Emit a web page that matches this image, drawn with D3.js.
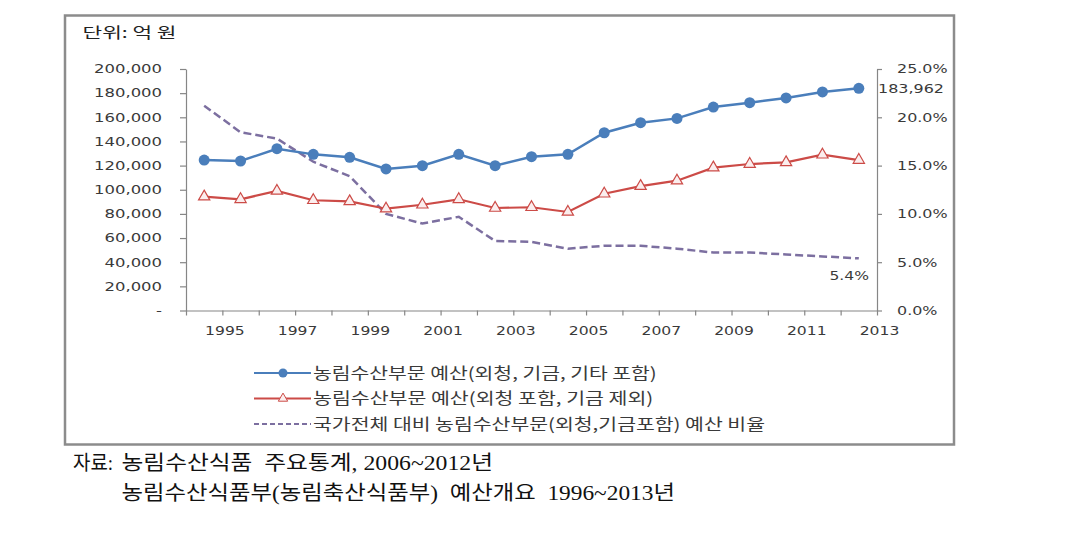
<!DOCTYPE html>
<html><head><meta charset="utf-8">
<script src="https://cdn.jsdelivr.net/npm/d3@7"></script>
<style>body{margin:0;background:#fff}svg{display:block}.pre{white-space:pre}</style>
</head><body>
<svg id="c" width="1068" height="545"></svg>
<script>
const years = [1995,1996,1997,1998,1999,2000,2001,2002,2003,2004,2005,2006,2007,2008,2009,2010,2011,2012,2013];
const budgetTotal = [124600,123800,134000,129300,126900,117200,119900,129300,119900,127400,129300,147200,155500,159100,168500,172100,176000,181000,183962];
const budgetExclFund = [94300,92100,99000,91300,90400,84300,87600,92100,84900,85500,81600,96700,103000,107500,118300,121300,122700,129000,124600];
const ratioPct = [21.2,18.45,17.8,15.4,13.9,10.0,9.0,9.7,7.2,7.1,6.4,6.7,6.7,6.4,6.0,6.0,5.8,5.6,5.4];
const leftTicks = [0,20000,40000,60000,80000,100000,120000,140000,160000,180000,200000];
const rightTicks = [0,5,10,15,20,25];
const xTicks = [1994,1995,1996,1997,1998,1999,2000,2001,2002,2003,2004,2005,2006,2007,2008,2009,2010,2011,2012,2013];
const xLabelYears = [1995,1997,1999,2001,2003,2005,2007,2009,2011,2013];
const legendLabels = ["농림수산부문 예산(외청, 기금, 기타 포함)","농림수산부문 예산(외청 포함, 기금 제외)","국가전체 대비 농림수산부문(외청,기금포함) 예산 비율"];
const unitLabel = "단위: 억 원";
const sourceLines = ["농림수산식품  주요통계, 2006~2012년","농림수산식품부(농림축산식품부)  예산개요  1996~2013년"];

const svg = d3.select("#c");
const numFont = "'DejaVu Sans', Verdana, sans-serif";
const krFont = "'Noto Sans CJK KR', sans-serif";
const SX = 1.3;
const axisColor = "#868686";
const textColor = "#3a3a3a";
const blue = "#4A7EBB", red = "#CC4B47", purple = "#7C6FA0";

// frame
svg.append("rect").attr("x",65).attr("y",15.5).attr("width",889).attr("height",429)
  .attr("fill","none").attr("stroke","#8c8c8c").attr("stroke-width",2.5);

const x = d3.scaleLinear().domain([1994,2013]).range([186,877]);
const yL = d3.scaleLinear().domain([0,200000]).range([310.5,69]);
const yR = d3.scaleLinear().domain([0,25]).range([310.5,69]);

function stretch(sel, sx){
  sel.selectAll("text").each(function(){
    const t = d3.select(this);
    const xx = +t.attr("x") || 0;
    t.attr("transform",`translate(${xx},0) scale(${sx},1)`).attr("x",0);
  });
}
function styleAxis(g){
  g.selectAll("path,line").attr("stroke",axisColor).attr("stroke-width",1.2);
  g.selectAll("text").attr("fill",textColor).attr("font-family",numFont).attr("font-size",12);
}

const gL = svg.append("g").attr("transform","translate(186,0)")
  .call(d3.axisLeft(yL).tickValues(leftTicks).tickSize(6).tickSizeOuter(0).tickPadding(18)
    .tickFormat(d => d===0 ? "-" : d3.format(",")(d)));
styleAxis(gL); stretch(gL, 1.37);

const gR = svg.append("g").attr("transform","translate(877,0)")
  .call(d3.axisRight(yR).tickValues(rightTicks).tickSize(5).tickSizeOuter(0).tickPadding(15)
    .tickFormat(d => d3.format(".1f")(d)+"%"));
styleAxis(gR); stretch(gR, 1.33);

const gB = svg.append("g").attr("transform","translate(0,310.5)")
  .call(d3.axisBottom(x).tickValues(xTicks).tickSize(5).tickSizeOuter(0).tickPadding(10.5)
    .tickFormat(d => xLabelYears.includes(d) ? String(d) : ""));
styleAxis(gB);
gB.selectAll("text").attr("transform",`translate(2,0) scale(${SX},1)`);

const px = d => x(d - 0.5);

// dashed ratio line
svg.append("path").datum(years)
  .attr("fill","none").attr("stroke",purple).attr("stroke-width",2.5).attr("stroke-dasharray","8,4")
  .attr("d", d3.line().x(d=>px(d)).y((d,i)=>yR(ratioPct[i])));

// red line
svg.append("path").datum(years)
  .attr("fill","none").attr("stroke",red).attr("stroke-width",2.2)
  .attr("d", d3.line().x(d=>px(d)).y((d,i)=>yL(budgetExclFund[i])));
const tri = d3.symbol().type(d3.symbolTriangle).size(55);
svg.append("g").selectAll("path").data(years).join("path")
  .attr("d", tri).attr("transform",(d,i)=>`translate(${px(d)},${yL(budgetExclFund[i])})`)
  .attr("fill","#fbeeee").attr("stroke",red).attr("stroke-width",1.2);

// blue line
svg.append("path").datum(years)
  .attr("fill","none").attr("stroke",blue).attr("stroke-width",2.5)
  .attr("d", d3.line().x(d=>px(d)).y((d,i)=>yL(budgetTotal[i])));
svg.append("g").selectAll("circle").data(years).join("circle")
  .attr("cx",d=>px(d)).attr("cy",(d,i)=>yL(budgetTotal[i])).attr("r",5.5).attr("fill",blue);

// data labels
const last = years.length-1;
svg.append("text").attr("transform",`translate(878,${yL(budgetTotal[last])+4.5}) scale(1.33,1)`)
  .attr("font-family",numFont).attr("font-size",12).attr("fill",textColor)
  .text(d3.format(",")(budgetTotal[last]));
svg.append("text").attr("transform",`translate(869,${yR(ratioPct[last])+22}) scale(${SX},1)`)
  .attr("text-anchor","end").attr("font-family",numFont).attr("font-size",12).attr("fill",textColor)
  .text(d3.format(".1f")(ratioPct[last])+"%");

// unit
svg.append("text").attr("x",82.5).attr("y",37.5).attr("font-family",krFont).attr("font-size",15)
  .attr("fill","#222").attr("textLength",94).attr("lengthAdjust","spacingAndGlyphs").text(unitLabel);

// legend
const legY = [373,398.5,424];
const legEnd = [656.7,653.3,765];
const lg = svg.append("g");
legendLabels.forEach((lab,i)=>{
  const line = lg.append("line").attr("x1",254).attr("x2",311).attr("y1",legY[i]).attr("y2",legY[i]);
  if(i===0){ line.attr("stroke",blue).attr("stroke-width",2);
    lg.append("circle").attr("cx",283).attr("cy",legY[i]).attr("r",4.5).attr("fill",blue); }
  if(i===1){ line.attr("stroke",red).attr("stroke-width",1.8);
    lg.append("path").attr("d",d3.symbol().type(d3.symbolTriangle).size(38)).attr("transform",`translate(283,${legY[i]})`)
      .attr("fill","#fbeeee").attr("stroke",red).attr("stroke-width",1); }
  if(i===2){ line.attr("stroke",purple).attr("stroke-width",2).attr("stroke-dasharray","5,3"); }
  lg.append("text").attr("x",313).attr("y",legY[i]+5.5).attr("font-family",krFont).attr("font-size",16)
    .attr("fill",textColor).attr("textLength",legEnd[i]-313).attr("lengthAdjust","spacingAndGlyphs").text(lab);
});

// source
const srcFont = "'Liberation Serif', 'Noto Sans CJK KR', serif";
svg.append("text").attr("x",73).attr("y",470).attr("font-family",srcFont).attr("font-size",20).attr("fill","#111")
  .attr("textLength",40).attr("lengthAdjust","spacingAndGlyphs").text("자료:");
svg.append("text").attr("class","pre").attr("x",121.5).attr("y",470).attr("font-family",srcFont).attr("font-size",20).attr("fill","#111")
  .attr("textLength",493-121.5).attr("lengthAdjust","spacingAndGlyphs").text(sourceLines[0]);
svg.append("text").attr("class","pre").attr("x",121.5).attr("y",500).attr("font-family",srcFont).attr("font-size",20).attr("fill","#111")
  .attr("textLength",675-121.5).attr("lengthAdjust","spacingAndGlyphs").text(sourceLines[1]);
</script>
</body></html>
